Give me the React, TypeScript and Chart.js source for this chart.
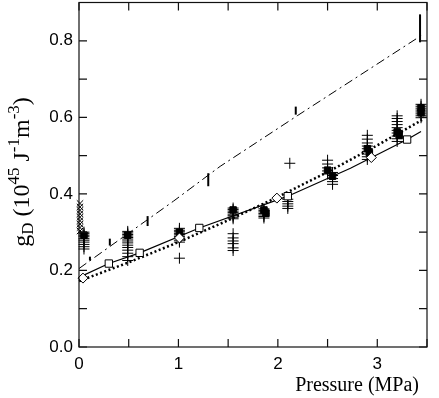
import { useEffect, useRef } from 'react';
import { Chart, registerables } from 'chart.js';
Chart.register(...registerables);

// ---- axes ----
const xRange = [0, 3.5];
const yRange = [0, 0.9];
const xTickLabels = ['0', '1', '2', '3'];
const yTickLabels = ['0.0', '0.2', '0.4', '0.6', '0.8'];
const xAxisTitle = 'Pressure (MPa)';
const yTitleParts: [string, string][] = [
  ['g', 'n'], ['D', 'sub'], [' (10', 'n'], ['45', 'sup'], [' J', 'n'],
  ['-1', 'sup'], ['m', 'n'], ['-3', 'sup'], [')', 'n'],
];

// ---- "+" clusters (x position, y values) ----
const plusClusterX = [0.05, 0.49, 1.01, 1.55, 1.86, 2.10, 2.12, 2.50, 2.55, 2.90, 3.20, 3.44];
const plusClusterY = [
  [0.300, 0.296, 0.292, 0.288, 0.283, 0.279, 0.274, 0.268, 0.262, 0.256],
  [0.302, 0.298, 0.294, 0.290, 0.286, 0.282, 0.277, 0.272, 0.266, 0.260, 0.253, 0.245, 0.236, 0.226],
  [0.310, 0.305, 0.301, 0.297, 0.293, 0.289, 0.284, 0.279, 0.274, 0.232],
  [0.363, 0.359, 0.355, 0.351, 0.347, 0.343, 0.339, 0.335, 0.296, 0.285, 0.277, 0.270, 0.259, 0.252],
  [0.361, 0.357, 0.353, 0.349, 0.345, 0.341, 0.337],
  [0.386, 0.380, 0.374, 0.368, 0.362],
  [0.480],
  [0.488, 0.478, 0.468, 0.460, 0.452],
  [0.456, 0.448, 0.440, 0.432, 0.425],
  [0.553, 0.543, 0.533, 0.525, 0.518, 0.511, 0.504, 0.497, 0.490],
  [0.604, 0.597, 0.589, 0.581, 0.573, 0.566, 0.559, 0.551, 0.544, 0.537],
  [0.634, 0.629, 0.624, 0.619, 0.614, 0.609, 0.604, 0.599],
];

// ---- filled squares ----
const filledX = [0.05, 0.49, 1.01, 1.55, 1.86, 1.88, 2.50, 2.55, 2.90, 2.92, 3.20, 3.22, 3.44, 3.44];
const filledY = [0.292, 0.292, 0.300, 0.358, 0.358, 0.350, 0.462, 0.446, 0.518, 0.508, 0.562, 0.553, 0.625, 0.612];

// ---- "x" markers at zero pressure ----
const crossX = [0.01, 0.01, 0.01, 0.01, 0.01, 0.01, 0.01, 0.01, 0.01];
const crossY = [0.375, 0.366, 0.357, 0.348, 0.339, 0.330, 0.321, 0.312, 0.303];

// ---- open squares + solid curve ----
const openSqX = [0.30, 0.61, 1.21, 2.10, 3.30];
const openSqY = [0.218, 0.246, 0.311, 0.394, 0.542];
const solidX = [0, 0.30, 0.61, 1.21, 2.10, 2.73, 3.30, 3.44];
const solidY = [0.182, 0.218, 0.246, 0.311, 0.394, 0.467, 0.542, 0.563];

// ---- diamonds + dotted curve ----
const diamondX = [0.04, 1.01, 1.99, 2.94];
const diamondY = [0.180, 0.285, 0.389, 0.495];
const dottedX = [0, 0.5, 1, 1.5, 2, 2.5, 3, 3.45];
const dottedY = [0.172, 0.221, 0.274, 0.331, 0.392, 0.457, 0.527, 0.593];

// ---- vertical bars + dash-dot curve ----
const barX = [0.11, 0.31, 0.69, 1.30, 2.18, 3.43];
const barLo = [0.226, 0.265, 0.316, 0.420, 0.607, 0.796];
const barHi = [0.236, 0.283, 0.342, 0.454, 0.628, 0.869];
const dashDotX = [0, 0.95, 1.42, 2.2, 3.45];
const dashDotY = [0.205, 0.381, 0.472, 0.605, 0.815];

const pts = (xs: number[], ys: number[]) => xs.map((x, i) => ({ x, y: ys[i] }));

const SHIFT = 4;

const framePlugin = {
  id: 'frame',
  afterDatasetsDraw(chart: any) {
    const { ctx, chartArea: a, scales } = chart;
    const xs = scales.x, ys = scales.y;
    ctx.save();
    // vertical bars
    ctx.strokeStyle = '#000';
    ctx.lineWidth = 2;
    barX.forEach((x, i) => {
      const px = xs.getPixelForValue(x);
      ctx.beginPath();
      ctx.moveTo(px, ys.getPixelForValue(barLo[i]));
      ctx.lineTo(px, ys.getPixelForValue(barHi[i]));
      ctx.stroke();
    });
    // frame
    ctx.lineWidth = 1.2;
    ctx.strokeStyle = '#111';
    ctx.strokeRect(a.left, a.top, a.right - a.left, a.bottom - a.top);
    const tl = 8;
    ctx.beginPath();
    xs.ticks.forEach((t: any) => {
      const px = xs.getPixelForValue(t.value);
      ctx.moveTo(px, a.bottom); ctx.lineTo(px, a.bottom - tl);
      ctx.moveTo(px, a.top); ctx.lineTo(px, a.top + tl);
    });
    ys.ticks.forEach((t: any) => {
      const py = ys.getPixelForValue(t.value);
      ctx.moveTo(a.left, py); ctx.lineTo(a.left + tl, py);
      ctx.moveTo(a.right, py); ctx.lineTo(a.right - tl, py);
    });
    ctx.stroke();
    ctx.restore();
  },
  afterDraw(chart: any) {
    const { ctx, chartArea: a } = chart;
    ctx.save();
    ctx.fillStyle = '#000';
    ctx.textBaseline = 'alphabetic';
    ctx.textAlign = 'right';
    ctx.font = '20px "Liberation Serif"';
    ctx.fillText(xAxisTitle, a.right - 8, a.bottom + 44);
    // y title with sub/superscripts
    const fontFor = (k: string) => (k === 'n' ? '24px "Liberation Serif"' : '17px "Liberation Serif"');
    ctx.textAlign = 'left';
    let total = 0;
    yTitleParts.forEach(([t, k]) => { ctx.font = fontFor(k); total += ctx.measureText(t).width; });
    ctx.translate(29, a.bottom - 175);
    ctx.rotate(-Math.PI / 2);
    let x = -total / 2;
    yTitleParts.forEach(([t, k]) => {
      ctx.font = fontFor(k);
      const dy = k === 'sup' ? -10 : k === 'sub' ? 4 : 0;
      ctx.fillText(t, x, dy);
      x += ctx.measureText(t).width;
    });
    ctx.restore();
  },
};

export default function App() {
  const ref = useRef<HTMLCanvasElement>(null);
  useEffect(() => {
    const plusPts: { x: number; y: number }[] = [];
    plusClusterX.forEach((x, i) => plusClusterY[i].forEach((y) => plusPts.push({ x, y })));
    const lineBase = { showLine: true, pointRadius: 0, fill: false, tension: 0, borderColor: '#000', clip: false as any };
    const chart = new Chart(ref.current!, {
      type: 'scatter',
      data: {
        datasets: [
          { data: pts(diamondX, diamondY), pointStyle: 'rectRot', pointRadius: 5, backgroundColor: '#fff', borderColor: '#000', borderWidth: 1, clip: false as any },
          { data: pts(openSqX, openSqY), pointStyle: 'rect', pointRadius: 5.2, backgroundColor: '#fff', borderColor: '#000', borderWidth: 1, clip: false as any },
          { data: pts(filledX, filledY), pointStyle: 'rect', pointRadius: 4.6, backgroundColor: '#000', borderColor: '#000', borderWidth: 1, clip: false as any },
          { data: plusPts, pointStyle: 'cross', pointRadius: 5.5, borderColor: '#000', borderWidth: 1, clip: false as any },
          { data: pts(crossX, crossY), pointStyle: 'crossRot', pointRadius: 4.5, borderColor: '#000', borderWidth: 1, clip: false as any },
          { ...lineBase, data: pts(solidX, solidY), borderWidth: 1.2 },
          { ...lineBase, data: pts(dottedX, dottedY), borderWidth: 2.5, borderDash: [2, 2.5] },
          { ...lineBase, data: pts(dashDotX, dashDotY), borderWidth: 1, borderDash: [9, 4, 2, 4] },
        ] as any,
      },
      options: {
        animation: false,
        responsive: false,
        layout: { padding: { top: 1, right: 12, left: 0, bottom: 0 } },
        plugins: { legend: { display: false }, tooltip: { enabled: false } },
        scales: {
          x: {
            type: 'linear', min: xRange[0], max: xRange[1],
            grid: { display: false, drawTicks: false }, border: { display: false },
            ticks: {
              stepSize: 0.5, autoSkip: false, maxRotation: 0, padding: 7, color: '#000',
              font: { family: 'Liberation Sans', size: 17 },
              callback: (v: any) => xTickLabels.find((l) => Math.abs(parseFloat(l) - v) < 1e-6) ?? '',
            },
            afterFit: (s: any) => { s.height = 51; s.paddingLeft = 0; s.paddingRight = 0; },
          },
          y: {
            type: 'linear', min: yRange[0], max: yRange[1],
            grid: { display: false, drawTicks: false }, border: { display: false },
            ticks: {
              stepSize: 0.1, autoSkip: false, padding: 6, color: '#000',
              font: { family: 'Liberation Sans', size: 17 },
              callback: (v: any) => yTickLabels.find((l) => Math.abs(parseFloat(l) - v) < 1e-6) ?? '',
            },
            afterFit: (s: any) => { s.width = 79; s.paddingTop = 0; s.paddingBottom = 0; },
          },
        },
      } as any,
      plugins: [framePlugin],
    });
    return () => chart.destroy();
  }, []);
  return (
    <div style={{ position: 'fixed', left: 0, top: -SHIFT, width: 439, height: 398 + SHIFT, background: '#fff' }}>
      <canvas ref={ref} width={439} height={398 + SHIFT} style={{ display: 'block' }} />
    </div>
  );
}
